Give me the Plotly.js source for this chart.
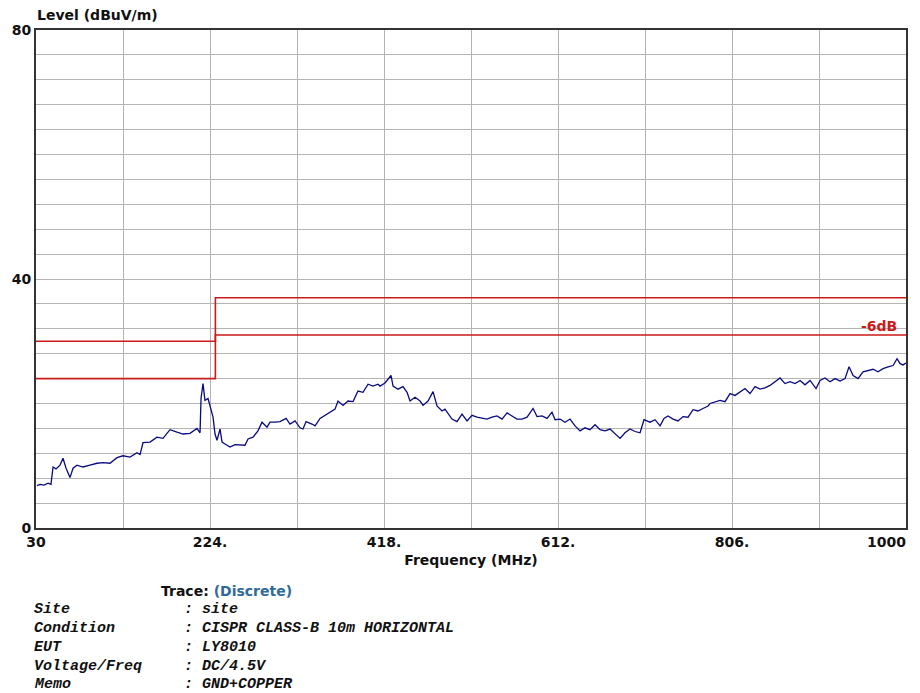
<!DOCTYPE html>
<html>
<head>
<meta charset="utf-8">
<script src="https://cdn.plot.ly/plotly-3.0.1.min.js"></script>
<style>html,body{margin:0;padding:0;background:#fff;}#chart{width:920px;height:693px;}</style>
</head>
<body>
<div id="chart"></div>
<script>
// Measured trace: frequency (MHz) and level (dBuV/m)
const traceFreq = [31.1,34.5,38.9,43.4,46.7,49.0,52.3,56.8,60.1,63.5,67.9,71.3,75.7,82.4,90.2,98.0,104.7,112.5,120.3,127.0,134.8,142.6,146.0,149.3,157.1,164.9,171.6,179.4,187.2,193.9,201.7,209.5,212.9,214.0,216.2,218.4,221.8,
224.0,227.4,229.6,231.8,235.2,237.4,240.7,246.3,251.9,257.5,263.0,266.4,272.0,277.5,282.0,287.6,290.9,296.5,302.1,308.8,313.2,318.8,324.4,327.7,331.1,337.7,341.1,346.7,352.2,357.8,363.4,366.7,372.3,377.9,383.5,389.0,394.6,400.2,405.8,411.3,
413.6,419.1,425.8,428.1,433.6,439.2,443.7,447.0,452.6,458.2,461.5,467.1,472.7,477.1,482.7,486.0,493.8,499.4,505.0,510.6,516.1,521.7,527.3,532.9,538.4,544.0,549.6,555.2,560.7,566.3,571.9,577.5,584.2,588.6,594.2,
599.8,605.3,608.7,614.3,619.8,625.4,631.0,636.6,642.1,647.7,653.3,658.9,664.4,670.0,675.6,681.2,686.7,692.3,697.9,703.5,707.9,714.6,720.2,725.8,730.2,734.7,740.3,745.8,751.4,757.0,762.6,768.1,773.7,779.3,
781.5,787.1,792.7,798.2,803.8,809.4,815.0,820.5,826.1,831.7,837.3,842.8,848.4,854.0,859.6,865.1,870.7,876.3,881.9,887.4,893.0,899.7,904.2,909.7,915.3,920.9,926.5,932.0,936.5,941.0,946.5,952.1,957.7,963.3,968.8,974.4,980.0,985.6,990.0,993.4,996.7,1000];
const traceLevel = [6.8,7.0,6.9,7.2,7.0,9.8,9.5,10.1,11.2,9.6,8.1,9.6,10.1,9.8,10.1,10.4,10.5,10.4,11.3,11.6,11.4,12.1,11.8,13.7,13.8,14.6,14.4,15.8,15.4,15.1,15.2,16.0,15.3,20.8,23.2,20.5,20.8,
19.6,17.8,15.1,14.1,15.9,13.8,13.5,13.0,13.4,13.4,13.3,14.3,14.6,15.6,17.0,16.2,17.0,17.0,17.1,17.6,16.7,17.2,16.1,15.9,17.1,16.7,16.4,17.6,18.1,18.5,19.1,20.4,19.7,20.4,20.3,22.0,21.8,23.1,22.8,23.1,
22.8,23.3,24.5,22.8,22.3,22.7,21.8,20.4,21.0,20.4,19.7,20.4,21.9,19.6,18.8,19.1,17.5,17.1,18.3,17.2,18.1,17.8,17.6,17.5,17.8,18.0,17.5,18.5,18.0,17.5,17.5,17.8,19.2,17.9,18.0,
17.6,18.6,17.4,17.5,17.0,17.5,16.4,15.6,16.1,15.8,16.6,15.8,15.6,15.9,15.1,14.4,15.3,15.9,15.5,15.3,17.4,17.0,17.4,16.4,17.6,18.0,17.5,17.2,17.9,17.8,19.0,18.8,19.2,19.6,
20.0,20.3,20.5,20.3,21.6,21.3,21.9,22.4,21.6,22.7,22.3,22.5,22.9,23.5,24.1,23.2,23.5,23.2,23.7,23.0,23.7,22.4,23.7,24.1,23.5,24.0,23.6,24.0,25.9,24.5,24.0,25.1,25.3,25.5,25.1,25.6,25.9,26.1,27.2,26.4,26.2,26.5];

// Limit lines (CISPR Class B 10m) and -6 dB margin
const limitFreq = [30, 230, 230, 1000];
const limitLevel = [30, 30, 37, 37];
const marginLevel = [24, 24, 31, 31];

// Axis ticks (gridlines every 97 MHz, labels on every other one)
const xTickVals = [30, 127, 224, 321, 418, 515, 612, 709, 806, 903, 1000];
const xTickText = ['30', '', '224.', '', '418.', '', '612.', '', '806.', '', ''];
const xEndLabel = '1000';
const yTickVals = [0,4,8,12,16,20,24,28,32,36,40,44,48,52,56,60,64,68,72,76,80];
const yTickText = ['0','','','','','','','','','','40','','','','','','','','','','80'];

// Info block
const infoLabels = ['Site', 'Condition', 'EUT', 'Voltage/Freq', 'Memo'];
const infoValues = ['site', 'CISPR CLASS-B 10m HORIZONTAL', 'LY8010', 'DC/4.5V', 'GND+COPPER'];

const red = '#cc1a1a';
const traces = [
  {x: limitFreq, y: limitLevel, mode: 'lines', line: {color: red, width: 1.6}, hoverinfo: 'skip'},
  {x: limitFreq, y: marginLevel, mode: 'lines', line: {color: red, width: 1.6}, hoverinfo: 'skip'},
  {x: traceFreq, y: traceLevel, mode: 'lines', line: {color: '#0a0a80', width: 1.3}, hoverinfo: 'skip'}
];

const W = 870, H = 498, L = 36, T = 30;
function px(xp) { return (xp - L) / W; }
function py(yp) { return (T + H - yp) / H; }

const sans = 'DejaVu Sans, Verdana, sans-serif';
const annotations = [
  {text: 'Level (dBuV/m)', xref: 'paper', yref: 'paper', x: px(35), y: py(15), xanchor: 'left', yanchor: 'middle', showarrow: false,
   font: {family: sans, size: 14, color: '#111', weight: 'bold'}},
  {text: '-6dB', xref: 'paper', yref: 'paper', x: px(899), y: py(326), xanchor: 'right', yanchor: 'middle', showarrow: false,
   font: {family: sans, size: 14, color: red, weight: 'bold'}},
  {text: xEndLabel, xref: 'paper', yref: 'paper', x: px(907), y: py(542), xanchor: 'right', yanchor: 'middle', showarrow: false, borderpad: 0,
   font: {family: sans, size: 14, color: '#111', weight: 'bold'}},
  {text: 'Trace: <span style="color:#2f6a9a">(Discrete)</span>', xref: 'paper', yref: 'paper', x: px(159), y: py(591), xanchor: 'left', yanchor: 'middle', showarrow: false,
   font: {family: sans, size: 14, color: '#111', weight: 'bold'}}
];
const rowY = [609, 628, 647, 666, 684];
for (let i = 0; i < infoLabels.length; i++) {
  const f = {family: 'Liberation Mono, Courier New, monospace', size: 15, color: '#111', weight: 'bold', style: 'italic'};
  annotations.push({text: infoLabels[i], xref: 'paper', yref: 'paper', x: px(33), y: py(rowY[i]), xanchor: 'left', yanchor: 'middle', showarrow: false, borderpad: 0, font: f});
  annotations.push({text: ':', xref: 'paper', yref: 'paper', x: px(183), y: py(rowY[i]), xanchor: 'left', yanchor: 'middle', showarrow: false, borderpad: 0, font: f});
  annotations.push({text: infoValues[i], xref: 'paper', yref: 'paper', x: px(201), y: py(rowY[i]), xanchor: 'left', yanchor: 'middle', showarrow: false, borderpad: 0, font: f});
}

const tickFont = {family: sans, size: 14, color: '#111', weight: 'bold'};
const layout = {
  width: 920, height: 693,
  margin: {l: L, r: 920 - L - W, t: T, b: 693 - T - H, pad: 0},
  paper_bgcolor: '#fff', plot_bgcolor: '#fff',
  showlegend: false,
  xaxis: {
    range: [30, 1000], tickmode: 'array', tickvals: xTickVals, ticktext: xTickText,
    showgrid: true, gridcolor: '#b4b4b4', gridwidth: 1, zeroline: false,
    showline: true, mirror: true, linecolor: '#333', linewidth: 2, ticks: '',
    tickfont: tickFont,
    title: {text: 'Frequency (MHz)', font: {family: sans, size: 14, color: '#111', weight: 'bold'}, standoff: 6}
  },
  yaxis: {
    range: [0, 80], tickmode: 'array', tickvals: yTickVals, ticktext: yTickText,
    showgrid: true, gridcolor: '#b4b4b4', gridwidth: 1, zeroline: false,
    showline: true, mirror: true, linecolor: '#333', linewidth: 2, ticks: '',
    tickfont: tickFont
  },
  annotations: annotations
};

Plotly.newPlot('chart', traces, layout, {staticPlot: true, displayModeBar: false});
</script>
</body>
</html>
